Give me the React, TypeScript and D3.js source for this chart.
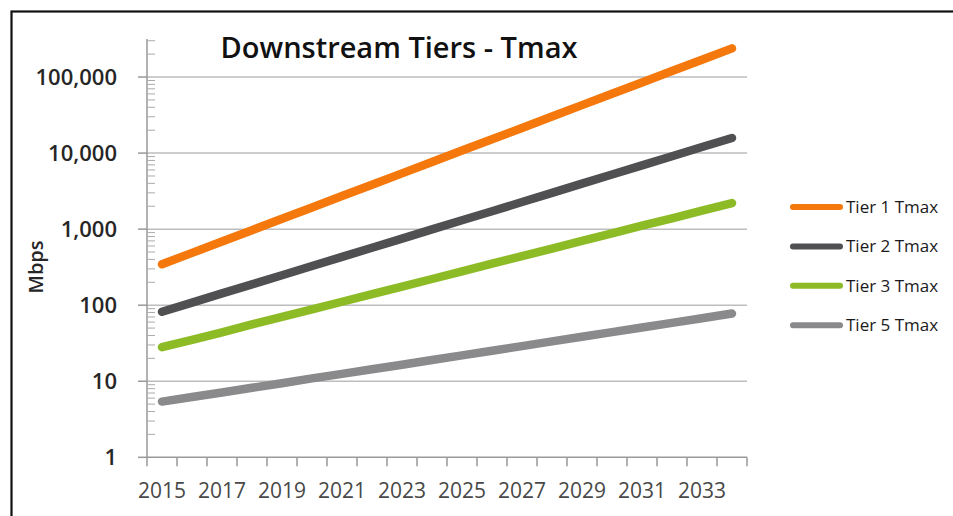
import React from "react";
import * as d3 from "d3";

const years = [
  2015, 2016, 2017, 2018, 2019, 2020, 2021, 2022, 2023, 2024,
  2025, 2026, 2027, 2028, 2029, 2030, 2031, 2032, 2033, 2034,
];

const tier1 = [
  345, 487, 687, 969, 1370, 1930, 2720, 3840, 5410, 7640,
  10800, 15200, 21400, 30200, 42700, 60200, 84900, 120000, 169000, 238000,
];
const tier2 = [
  82, 108, 143, 188, 248, 327, 432, 570, 751, 991,
  1310, 1720, 2270, 3000, 3960, 5220, 6880, 9080, 12000, 15800,
];
const tier3 = [
  28, 35, 44, 56, 70, 88, 111, 140, 176, 221,
  279, 351, 441, 555, 699, 879, 1110, 1390, 1750, 2200,
];
const tier5 = [
  5.4, 6.2, 7.1, 8.2, 9.4, 10.9, 12.5, 14.4, 16.5, 19.0,
  21.9, 25.2, 29.0, 33.4, 38.4, 44.2, 50.9, 58.6, 67.4, 77.6,
];

const seriesNames = ["Tier 1 Tmax", "Tier 2 Tmax", "Tier 3 Tmax", "Tier 5 Tmax"];
const seriesColors = ["#f4780b", "#505052", "#8dbb26", "#8a8a8c"];
const seriesValues = [tier1, tier2, tier3, tier5];

const majorTicks = [1, 10, 100, 1000, 10000, 100000];

const W = 953;
const H = 516;
const left = 147;
const right = 747;
const top = 39;
const bottom = 457.3;

const fontFamily = "'Open Sans', 'Noto Sans', sans-serif";

export default function App() {
  const x = d3.scaleBand<number>().domain(years).range([left, right]).padding(0);
  const y = d3.scaleLog().domain([1, Math.pow(10, 5.5)]).range([bottom, top]);
  const cx = (yr: number) => (x(yr) ?? 0) + x.bandwidth() / 2;

  const line = d3
    .line<number>()
    .x((_, i) => cx(years[i]))
    .y((d) => y(d));

  const minorTicks: number[] = [];
  majorTicks.forEach((p) => {
    for (let m = 2; m <= 9; m++) {
      const v = m * p;
      if (v <= y.domain()[1] * 1.001) minorTicks.push(v);
    }
  });

  const xTickPos = years.map((yr) => x(yr) ?? 0).concat([right]);
  const fmt = d3.format(",");

  return (
    <svg
      width={W}
      height={H}
      style={{ position: "absolute", left: 0, top: 0, background: "#fff" }}
    >
      <rect x={0} y={0} width={W} height={H} fill="#fff" />
      <rect
        x={11.5}
        y={11.5}
        width={W + 20}
        height={H + 20}
        fill="none"
        stroke="#111"
        strokeWidth={2.2}
      />

      {/* gridlines */}
      {majorTicks.slice(1).map((t) => (
        <line
          key={"g" + t}
          x1={left}
          x2={right}
          y1={y(t)}
          y2={y(t)}
          stroke="#bdbdbd"
          strokeWidth={1.5}
        />
      ))}

      {/* y axis */}
      <line x1={left} x2={left} y1={top} y2={bottom} stroke="#999" strokeWidth={1.5} />
      {majorTicks.map((t) => (
        <line
          key={"mt" + t}
          x1={left - 9}
          x2={left}
          y1={y(t)}
          y2={y(t)}
          stroke="#999"
          strokeWidth={1.5}
        />
      ))}
      {minorTicks.map((t) => (
        <line
          key={"mn" + t}
          x1={left}
          x2={left + 8}
          y1={y(t)}
          y2={y(t)}
          stroke="#aaa"
          strokeWidth={1}
        />
      ))}
      {majorTicks.map((t) => (
        <text
          key={"yl" + t}
          x={117}
          y={y(t) + 8}
          textAnchor="end"
          fontFamily={fontFamily}
          fontSize={22}
          fontWeight={600}
          fill="#262626"
        >
          {fmt(t)}
        </text>
      ))}
      <text
        transform="translate(43,267) rotate(-90)"
        textAnchor="middle"
        fontFamily={fontFamily}
        fontSize={20}
        fontWeight={600}
        fill="#262626"
      >
        Mbps
      </text>

      {/* x axis */}
      <line x1={left} x2={right} y1={bottom} y2={bottom} stroke="#999" strokeWidth={1.5} />
      {xTickPos.map((p, i) => (
        <line
          key={"xt" + i}
          x1={p}
          x2={p}
          y1={bottom}
          y2={bottom + 9}
          stroke="#999"
          strokeWidth={1.5}
        />
      ))}
      {years
        .filter((_, i) => i % 2 === 0)
        .map((yr) => (
          <text
            key={"xl" + yr}
            x={cx(yr)}
            y={498}
            textAnchor="middle"
            fontFamily={fontFamily}
            fontSize={21}
            fill="#484848"
          >
            {yr}
          </text>
        ))}

      {/* series */}
      {seriesValues.map((vals, i) => (
        <path
          key={"s" + i}
          d={line(vals) ?? ""}
          fill="none"
          stroke={seriesColors[i]}
          strokeWidth={8.5}
          strokeLinecap="round"
          strokeLinejoin="round"
        />
      ))}

      {/* title */}
      <text
        x={399}
        y={58}
        textAnchor="middle"
        fontFamily={fontFamily}
        fontSize={29}
        fontWeight={600}
        fill="#111"
      >
        Downstream Tiers - Tmax
      </text>

      {/* legend */}
      {seriesNames.map((name, i) => {
        const ly = 207 + i * 39.4;
        return (
          <g key={"lg" + i}>
            <line
              x1={793}
              x2={840}
              y1={ly}
              y2={ly}
              stroke={seriesColors[i]}
              strokeWidth={6}
              strokeLinecap="round"
            />
            <text
              x={846}
              y={ly + 6}
              fontFamily={fontFamily}
              fontSize={17}
              fill="#1a1a1a"
            >
              {name}
            </text>
          </g>
        );
      })}
    </svg>
  );
}
